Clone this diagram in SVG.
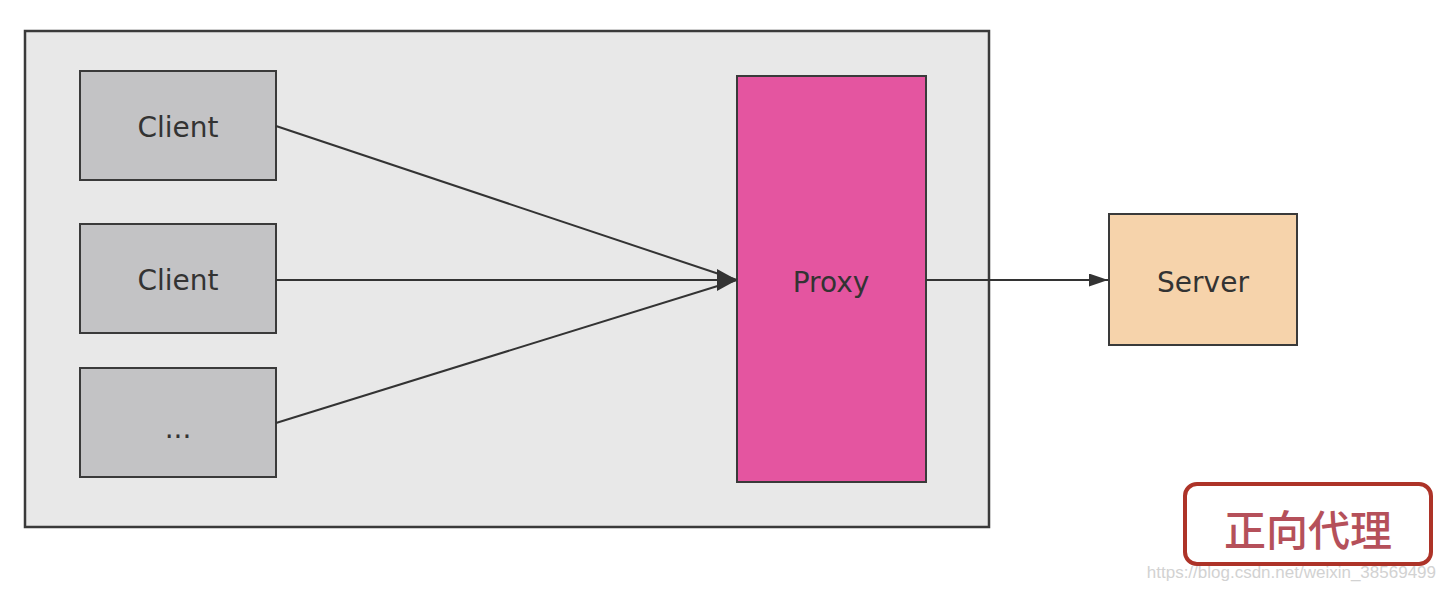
<svg xmlns="http://www.w3.org/2000/svg" width="1446" height="590" viewBox="0 0 1446 590">
<defs>
<style>
.box{stroke:#3a3a3a;stroke-width:2}
.client{fill:#c3c3c5}
.lbl{font-family:"Comic Sans MS","DejaVu Sans","Noto Sans",sans-serif;font-size:28px;fill:#333;text-anchor:middle;dominant-baseline:central}
.conn{stroke:#333;stroke-width:2;fill:none}
</style>
<marker id="ah" viewBox="0 0 10 10" refX="10" refY="5" markerWidth="9.5" markerHeight="6.5" orient="auto" markerUnits="strokeWidth" preserveAspectRatio="none">
<path d="M0,0 L10,5 L0,10 z" fill="#333"/>
</marker>
</defs>
<rect width="1446" height="590" fill="#ffffff"/>
<g id="container">
<rect x="25" y="31" width="964" height="496" fill="#e8e8e8" stroke="#3a3a3a" stroke-width="2.5"/>
</g>
<g id="client1">
<rect class="box client" x="80" y="71" width="196" height="109"/>
<text class="lbl" x="178" y="127">Client</text>
</g>
<g id="client2">
<rect class="box client" x="80" y="224" width="196" height="109"/>
<text class="lbl" x="178" y="280">Client</text>
</g>
<g id="client3">
<rect class="box client" x="80" y="368" width="196" height="109"/>
<text class="lbl" x="178" y="428">...</text>
</g>
<g id="proxy">
<rect class="box" x="737" y="76" width="189" height="406" fill="#e455a0"/>
<text class="lbl" x="831" y="282">Proxy</text>
</g>
<g id="server">
<rect class="box" x="1109" y="214" width="188" height="131" fill="#f6d3ab"/>
<text class="lbl" x="1203" y="282">Server</text>
</g>
<g id="connectors">
<line class="conn" x1="276" y1="126" x2="737" y2="280"/>
<line class="conn" x1="276" y1="280" x2="737" y2="280"/>
<line class="conn" x1="276" y1="423" x2="737" y2="280"/>
<path d="M717,269 L737,280 L717,291 z" fill="#333"/>
<line class="conn" x1="926" y1="280" x2="1108" y2="280" marker-end="url(#ah)"/>
</g>
<g id="tag">
<rect x="1185" y="484" width="246" height="80" rx="12" ry="12" fill="#ffffff" stroke="#ad3328" stroke-width="4"/>
<text x="1308" y="527" font-family="'Noto Sans CJK SC',sans-serif" font-size="42" font-weight="500" fill="#b5505a" text-anchor="middle" dominant-baseline="central">正向代理</text>
</g>
<text x="1436" y="578" font-family="'Liberation Sans',Arial,sans-serif" font-size="17" fill="#d2d2d2" text-anchor="end">https://blog.csdn.net/weixin_38569499</text>
</svg>
